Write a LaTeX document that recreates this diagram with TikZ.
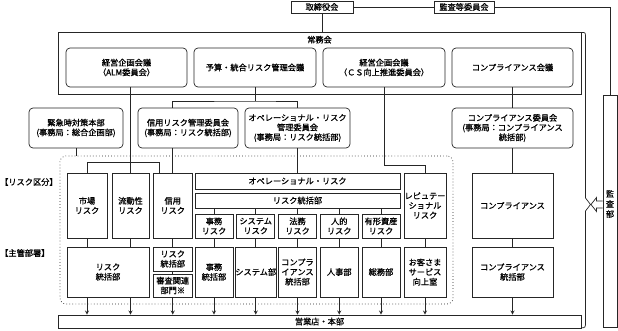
\documentclass[tikz,border=0pt]{standalone}
\usepackage{fontspec}
\newfontfamily\jpfont[FakeBold=1]{Noto Sans CJK JP}
\usetikzlibrary{arrows, positioning, calc}
\newdimen\pxu \pxu=0.03cm

\begin{document}
\begin{tikzpicture}[
        x=0.03cm, y=-0.03cm,
        font=\jpfont\fontsize{7}{8.3}\selectfont,
        box/.style={rectangle, draw=black!85, line width=0.6pt, inner sep=0pt, align=center},
        confbox/.style={box, rounded corners=4\pxu},
        link/.style={draw=black!85, line width=0.6pt},
        arrow/.style={link, ->, >=stealth}
    ]
        \useasboundingbox (0,0) rectangle (618,330);

        % Top
        \node[box, minimum width=62\pxu, minimum height=12\pxu] (board) at (322,7) {取締役会};
        \node[box, minimum width=60\pxu, minimum height=12\pxu] (auditc) at (464,7) {監査等委員会};
        \node[box, minimum width=523\pxu, minimum height=62\pxu,
              label={[anchor=north, inner sep=0pt, yshift=-4\pxu]north:常務会}] (jomu) at (319.5,63) {};
        \node[confbox, minimum width=121\pxu, minimum height=39\pxu] (alm) at (126.5,67.5) {経営企画会議\\（ALM委員会）};
        \node[confbox, minimum width=122\pxu, minimum height=39\pxu] (yosan) at (255,67.5) {予算・統合リスク管理会議};
        \node[confbox, minimum width=122\pxu, minimum height=39\pxu] (cs) at (384,67.5) {経営企画会議\\（ＣＳ向上推進委員会）};
        \node[confbox, minimum width=121\pxu, minimum height=39\pxu] (compc) at (512.5,67.5) {コンプライアンス会議};

        % Committees
        \node[confbox, minimum width=94\pxu, minimum height=40\pxu] (kinkyu) at (76,128) {緊急時対策本部\\(事務局：総合企画部)};
        \node[confbox, minimum width=100\pxu, minimum height=40\pxu] (shinyoc) at (188,128) {信用リスク管理委員会\\(事務局：リスク統括部)};
        \node[confbox, minimum width=105\pxu, minimum height=40\pxu] (opsc) at (297.5,128) {オペレーショナル・リスク\\管理委員会\\(事務局：リスク統括部)};
        \node[confbox, minimum width=121\pxu, minimum height=40\pxu] (compi) at (512.5,128) {コンプライアンス委員会\\(事務局：コンプライアンス\\統括部)};

        % Risk area
        \node[box, dotted, rounded corners=6\pxu, minimum width=393\pxu, minimum height=148\pxu] (riskarea) at (256.5,230) {};
        \node[anchor=west, inner sep=0pt] (kubun) at (0,182) {【リスク区分】};
        \node[anchor=west, inner sep=0pt] (shukan) at (0,253) {【主管部署】};

        % Row 1
        \node[box, minimum width=40\pxu, minimum height=65\pxu] (shijo) at (87,205.5) {市場\\リスク};
        \node[box, minimum width=37\pxu, minimum height=65\pxu] (ryudo) at (130.5,205.5) {流動性\\リスク};
        \node[box, minimum width=39.5\pxu, minimum height=65\pxu] (shinyo) at (172.75,205.5) {信用\\リスク};
        \node[box, minimum width=205\pxu, minimum height=16\pxu] (opsrisk) at (297.5,181) {オペレーショナル・リスク};
        \node[box, minimum width=205\pxu, minimum height=15\pxu] (opsbu) at (297.5,200.5) {リスク統括部};
        \node[box, minimum width=38\pxu, minimum height=24\pxu] (jimu) at (214,226) {事務\\リスク};
        \node[box, minimum width=38\pxu, minimum height=24\pxu] (system) at (255.75,226) {システム\\リスク};
        \node[box, minimum width=38\pxu, minimum height=24\pxu] (homu) at (297.5,226) {法務\\リスク};
        \node[box, minimum width=38\pxu, minimum height=24\pxu] (jinteki) at (339.25,226) {人的\\リスク};
        \node[box, minimum width=38\pxu, minimum height=24\pxu] (yukei) at (381,226) {有形資産\\リスク};
        \node[box, minimum width=42\pxu, minimum height=65\pxu] (repu) at (425,205.5) {レピュテー\\ショナル\\リスク};
        \node[box, minimum width=81\pxu, minimum height=65\pxu] (comp) at (512.5,205.5) {コンプライアンス};

        % Row 2
        \node[box, minimum width=82\pxu, minimum height=50\pxu] (riskbu) at (108,272) {リスク\\統括部};
        \node[box, minimum width=39.5\pxu, minimum height=24\pxu] (shinyobu) at (172.75,259) {リスク\\統括部};
        \node[box, minimum width=39.5\pxu, minimum height=23\pxu] (shinsa) at (172.75,285.5) {審査関連\\部門※};
        \node[box, minimum width=38\pxu, minimum height=50\pxu] (jimubu) at (214,272) {事務\\統括部};
        \node[box, minimum width=38\pxu, minimum height=50\pxu] (systembu) at (255.75,272) {システム部};
        \node[box, minimum width=38\pxu, minimum height=50\pxu] (homubu) at (297.5,272) {コンプラ\\イアンス\\統括部};
        \node[box, minimum width=38\pxu, minimum height=50\pxu] (jinjibu) at (339.25,272) {人事部};
        \node[box, minimum width=38\pxu, minimum height=50\pxu] (somubu) at (381,272) {総務部};
        \node[box, minimum width=42\pxu, minimum height=50\pxu] (okyaku) at (425,272) {お客さま\\サービス\\向上室};
        \node[box, minimum width=81\pxu, minimum height=50\pxu] (compbu) at (512.5,272) {コンプライアンス\\統括部};

        % Bottom and audit
        \node[box, minimum width=523\pxu, minimum height=13\pxu] (eigyo) at (319.5,321.5) {営業店・本部};
        \node[box, minimum width=14\pxu, minimum height=232\pxu] (kansabu) at (610,211) {};
        \node[inner sep=0pt, align=center, font=\jpfont\fontsize{7}{8.6}\selectfont] (kansalabel) at (610,204) {監\\査\\部};

        % Connectors
        \draw[link] (board) -- (auditc);
        \draw[link] (auditc.east) -| (kansabu.north);
        \draw[link] (board.south) -- (board.south |- jomu.north);

        \coordinate (almbar) at (159,162);
        \coordinate (yosanbar) at (255,101);
        \coordinate (csbend) at (384,165);
        \draw[link] (ryudo.north |- alm.south) -- (ryudo.north);
        \draw[link] (shijo.north) |- (almbar) -- (almbar |- shinyo.north);
        \draw[link] (yosan.south) -- (yosanbar);
        \draw[link] (shinyo.north |- shinyoc.north) |- (yosanbar) -| (opsc.north);
        \draw[link] (shinyo.north |- shinyoc.south) -- (shinyo.north);
        \draw[link] (opsc.south) -- (opsrisk.north);
        \draw[link] (kinkyu.south) -- (kinkyu.south |- riskarea.north);
        \draw[link] (cs.south) -- (csbend) -| (repu.north);
        \draw[link] (compc.south) -- (compi.north);
        \draw[link] (compi.south) -- (comp.north);

        \foreach \n in {jimu, system, homu, jinteki, yukei}
            \draw[link] (\n.north |- opsbu.south) -- (\n.north);
        \foreach \n in {shijo, ryudo}
            \draw[link] (\n.south) -- (\n.south |- riskbu.north);
        \foreach \a/\b in {shinyo/shinyobu, shinyobu/shinsa, jimu/jimubu, system/systembu, homu/homubu, jinteki/jinjibu, yukei/somubu, repu/okyaku, comp/compbu}
            \draw[link] (\a.south) -- (\b.north);

        \foreach \n in {shijo, ryudo}
            \draw[arrow] (\n.south |- riskbu.south) -- (\n.south |- eigyo.north);
        \foreach \n in {shinsa, jimubu, systembu, homubu, jinjibu, somubu, okyaku, compbu}
            \draw[arrow] (\n.south) -- (\n.south |- eigyo.north);

        % Brace and audit arrow
        \draw[link] (582,32.5) .. controls (585.5,32.5) .. (585.5,38) -- (585.5,198) -- (590.5,204.5)
            -- (585.5,211) -- (585.5,322) .. controls (585.5,327.5) .. (581,328);
        \draw[link] (kansabu.west |- 0,201) -- (596.5,201) -- (596.5,197.5) -- (591,204.5)
            -- (596.5,211.5) -- (596.5,208) -- (kansabu.west |- 0,208);
    \end{tikzpicture}
\end{document}
